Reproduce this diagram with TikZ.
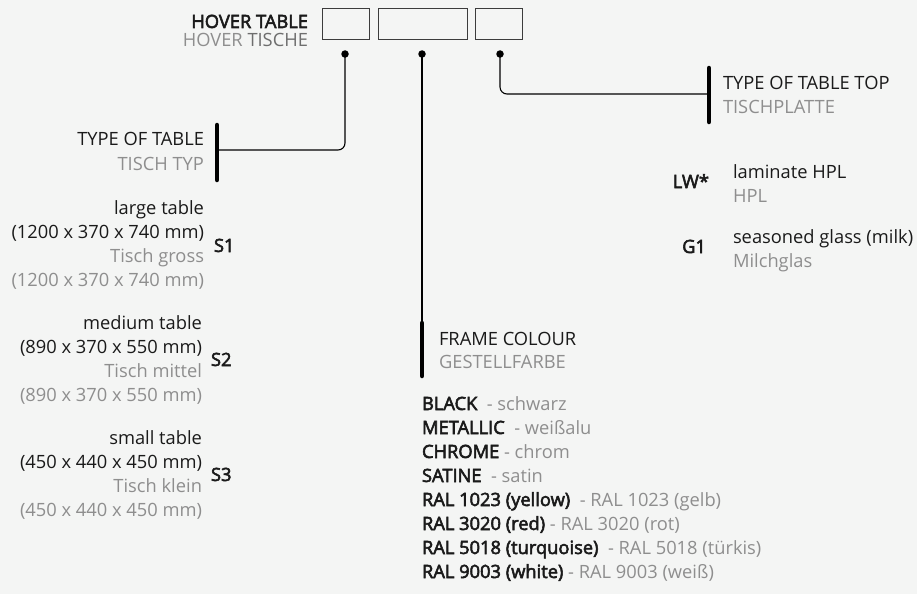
\documentclass[tikz,border=0pt]{standalone}
\usepackage{fontspec}
\setmainfont{Open Sans}[BoldFont={Open Sans}, BoldFeatures={FakeBold=3}]
\definecolor{bg}{HTML}{F4F5F4}
\definecolor{ink}{HTML}{1A1A1A}
\definecolor{grey}{HTML}{8E8E8E}
\definecolor{midgrey}{HTML}{6E6E6E}
\tikzset{
  txt/.style={inner sep=0pt, outer sep=0pt, text=ink, font=\fontsize{18.3}{20}\selectfont},
  gtxt/.style={txt, text=grey},
  code/.style={txt, font=\fontsize{18.3}{20}\selectfont\bfseries},
  slot/.style={draw=ink!85, line width=0.9pt, inner sep=0pt},
  conn/.style={draw=black, line width=1.1pt, rounded corners=7pt},
  bar/.style={draw=black, line width=4.5pt, line cap=round},
  dot/.style={circle, fill=black, inner sep=0pt, minimum size=7.5pt}
}
\begin{document}
\begin{tikzpicture}[x=1pt,y=-1pt]
\fill[bg] (0,0) rectangle (917,594);
\useasboundingbox (0,0) rectangle (917,594);

% header
\node[code, anchor=base east] (ht) at (308,28) {HOVER TABLE};
\node[gtxt, anchor=base east] (hs) at (308,47) {{\color{grey}HOVER} {\color{midgrey}TISCHE}};
\node[slot, minimum width=47pt, minimum height=31pt, anchor=north west] (box1) at (322,8) {};
\node[slot, minimum width=89pt, minimum height=31pt, anchor=north west] (box2) at (378,8) {};
\node[slot, minimum width=47pt, minimum height=31pt, anchor=north west] (box3) at (475,8) {};
\node[dot] (d1) at (345,54) {};
\node[dot] (d2) at (422,54) {};
\node[dot] (d3) at (500,54) {};

% bars
\coordinate (b1t) at (217,125);
\coordinate (b1b) at (217,180);
\coordinate (b1m) at (217,150);
\coordinate (b2t) at (422,323);
\coordinate (b2b) at (422,376);
\coordinate (b3t) at (709,68);
\coordinate (b3b) at (709,122);
\coordinate (b3m) at (709,94);
\draw[bar] (b1t) -- (b1b);
\draw[bar] (b2t) -- (b2b);
\draw[bar] (b3t) -- (b3b);

% connectors
\draw[conn] (d1.center) |- (b1m);
\draw[conn] (d2.center) -- (b2t);
\draw[conn] (d3.center) |- (b3m);

% type of table
\node[txt, anchor=base east] (tt1) at (204,145) {TYPE OF TABLE};
\node[gtxt, anchor=base east] (tt2) at (204,170) {TISCH TYP};

\node[txt, anchor=base east] (l1) at (204,214) {large table};
\node[txt, anchor=base east] (l2) at (204,238) {(1200 x 370 x 740 mm)};
\node[gtxt, anchor=base east] (l3) at (204,262) {Tisch gross};
\node[gtxt, anchor=base east] (l4) at (204,286) {(1200 x 370 x 740 mm)};
\node[code, anchor=base west] (s1) at (214,252) {S1};

\node[txt, anchor=base east] (m1) at (202,329) {medium table};
\node[txt, anchor=base east] (m2) at (202,353) {(890 x 370 x 550 mm)};
\node[gtxt, anchor=base east] (m3) at (202,377) {Tisch mittel};
\node[gtxt, anchor=base east] (m4) at (202,401) {(890 x 370 x 550 mm)};
\node[code, anchor=base west] (s2) at (211,366) {S2};

\node[txt, anchor=base east] (k1) at (202,444) {small table};
\node[txt, anchor=base east] (k2) at (202,468) {(450 x 440 x 450 mm)};
\node[gtxt, anchor=base east] (k3) at (202,492) {Tisch klein};
\node[gtxt, anchor=base east] (k4) at (202,516) {(450 x 440 x 450 mm)};
\node[code, anchor=base west] (s3) at (211,481) {S3};

% frame colour
\node[txt, anchor=base west] (fc1) at (439,345) {FRAME COLOUR};
\node[gtxt, anchor=base west] (fc2) at (439,368) {GESTELLFARBE};
\node[txt, anchor=base west] (c1) at (422,410) {\textbf{BLACK}\ \ {\color{grey}- schwarz}};
\node[txt, anchor=base west] (c2) at (422,434) {\textbf{METALLIC}\ \ {\color{grey}- weißalu}};
\node[txt, anchor=base west] (c3) at (422,458) {\textbf{CHROME}\ {\color{grey}- chrom}};
\node[txt, anchor=base west] (c4) at (422,482) {\textbf{SATINE}\ \ {\color{grey}- satin}};
\node[txt, anchor=base west] (c5) at (422,506) {\textbf{RAL 1023 (yellow)}\ \ {\color{grey}- RAL 1023 (gelb)}};
\node[txt, anchor=base west] (c6) at (422,530) {\textbf{RAL 3020 (red)}\ {\color{grey}- RAL 3020 (rot)}};
\node[txt, anchor=base west] (c7) at (422,554) {\textbf{RAL 5018 (turquoise)}\ \ {\color{grey}- RAL 5018 (türkis)}};
\node[txt, anchor=base west] (c8) at (422,578) {\textbf{RAL 9003 (white)}\ {\color{grey}- RAL 9003 (weiß)}};

% table top
\node[txt, anchor=base west] (tp1) at (723,89) {TYPE OF TABLE TOP};
\node[gtxt, anchor=base west] (tp2) at (723,113) {TISCHPLATTE};
\node[code, anchor=base east] (lw) at (709,188) {LW*};
\node[txt, anchor=base west] (lw1) at (733,178) {laminate HPL};
\node[gtxt, anchor=base west] (lw2) at (733,202) {HPL};
\node[code, anchor=base east] (g1) at (706,253) {G1};
\node[txt, anchor=base west] (g11) at (733,243) {seasoned glass (milk)};
\node[gtxt, anchor=base west] (g12) at (733,267) {Milchglas};
\end{tikzpicture}
\end{document}
